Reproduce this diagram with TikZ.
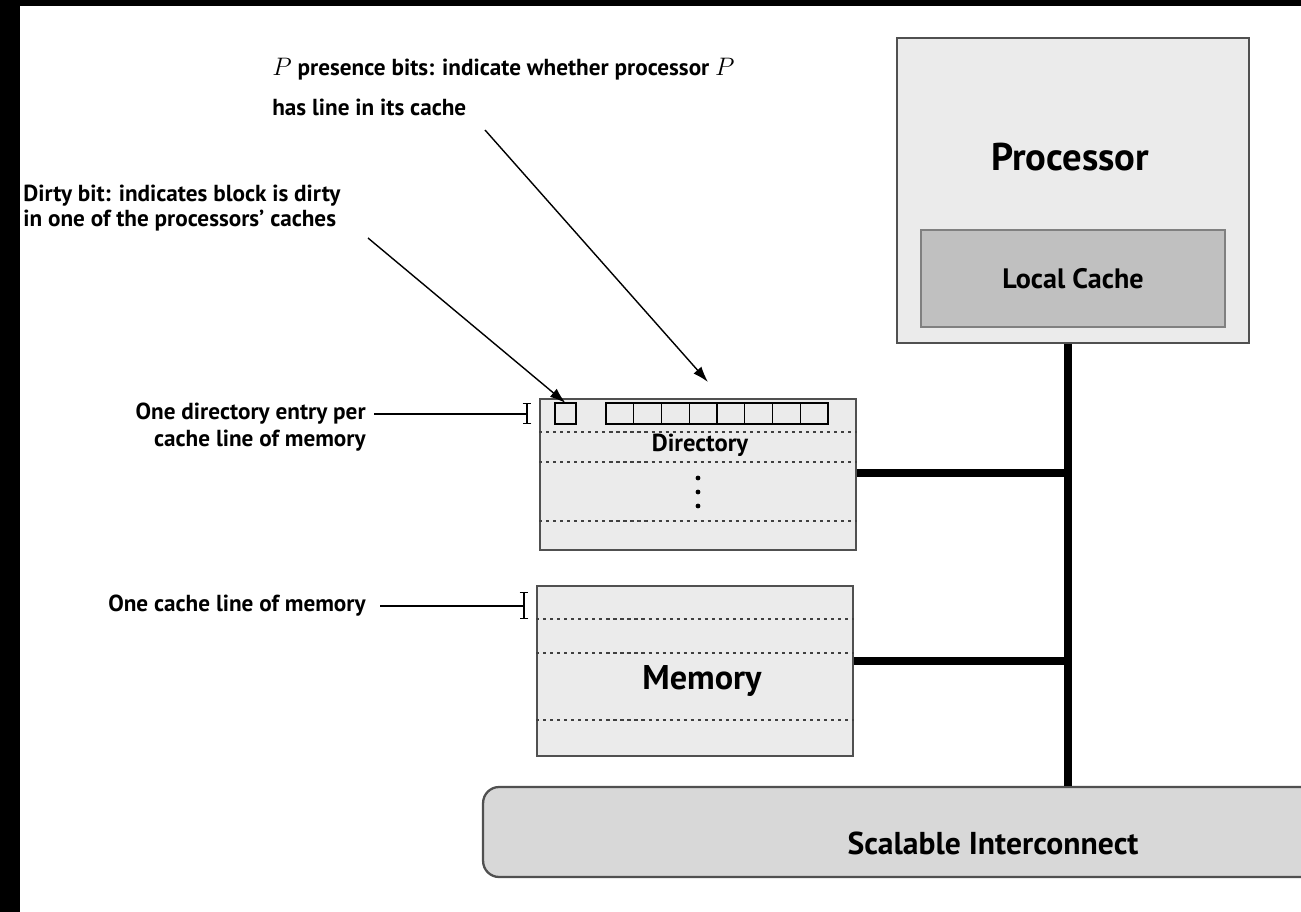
\documentclass[tikz,border=0pt]{standalone}
\usepackage{amsmath,amssymb}
\usepackage{fontspec}
\setmainfont{PT Sans}
\usetikzlibrary{arrows.meta}

\definecolor{boxgray}{HTML}{EBEBEB}
\definecolor{cachegray}{HTML}{C0C0C0}
\definecolor{netgray}{HTML}{D8D8D8}
\definecolor{edgegray}{HTML}{505050}

\newcommand{\procvar}{{\fontsize{15.5}{22.8}\selectfont$P$}}

\tikzset{
	unitbox/.style={draw=edgegray, line width=1.1pt, fill=boxgray, inner sep=0pt},
	bus/.style={line width=4.6pt},
	rowline/.style={line width=1.6pt, dash pattern=on 1.8pt off 2.2pt, black!75},
	note/.style={font=\fontsize{13.2}{14.2}\selectfont\bfseries, inner sep=0pt},
	pointer/.style={line width=0.8pt, -{Latex[length=9pt, width=6pt]}},
	entrymark/.style={line width=0.7pt, {Bar[width=5pt]}-{Bar[width=5pt]}}
}

\begin{document}
\begin{tikzpicture}[x=0.02cm, y=-0.02cm]
	\useasboundingbox (0,0) rectangle (1301,912);
	\fill[black] (0,0) rectangle (1301,6);
	\fill[black] (0,0) rectangle (20,912);

	% processor and its cache
	\node[unitbox, minimum width=7.04cm, minimum height=6.1cm] (proc) at (1073,190.5) {};
	\node[font=\fontsize{22}{24}\selectfont\bfseries] (proctext) at (1070,157) {Processor};
	\node[unitbox, draw=gray, line width=0.8pt, fill=cachegray, minimum width=6.08cm, minimum height=1.94cm,
		font=\fontsize{16}{18}\selectfont\bfseries] (cache) at (1073,278.5) {Local Cache};

	% interconnect
	\node[draw=edgegray, line width=1.3pt, fill=netgray, rounded corners=0.32cm,
		minimum width=16.94cm, minimum height=1.8cm] (net) at (906.5,832) {};
	\node[font=\fontsize{18}{20}\selectfont\bfseries] (nettext) at (993,843) {Scalable Interconnect};

	% directory
	\node[unitbox, minimum width=6.32cm, minimum height=3.02cm] (dir) at (698,474.5) {};
	\foreach \y in {432,462,521}
		\draw[rowline] (dir.west |- 0,\y) -- (dir.east |- 0,\y);
	\node[font=\fontsize{14}{16}\selectfont\bfseries] (dirtext) at (700,445) {Directory};
	\foreach \y in {478,492,506}
		\fill (698,\y) circle (2.4);
	\draw[line width=0.8pt] (555,403) rectangle (576,424);
	\coordinate (dirtybit) at (565.5,403);
	\foreach \i in {0,...,7}
		\draw[line width=0.8pt] (606+\i*27.75,403) rectangle ++(27.75,21);
	\coordinate (presbits) at (708,382);

	% memory
	\node[unitbox, minimum width=6.32cm, minimum height=3.4cm] (mem) at (695,671) {};
	\foreach \y in {619,653,720}
		\draw[rowline] (mem.west |- 0,\y) -- (mem.east |- 0,\y);
	\node[font=\fontsize{19.5}{22}\selectfont\bfseries] (memtext) at (702,681) {Memory};

	% links to the bus
	\coordinate (bustop) at (proc.south -| 1068,0);
	\draw[bus] (bustop) -- (bustop |- net.north);
	\draw[bus] (dir.east |- 0,473) -- (bustop |- 0,473);
	\draw[bus] (mem.east |- 0,661) -- (bustop |- 0,661);

	% notes
	\node[note, font=\fontsize{13.2}{22.8}\selectfont\bfseries, anchor=north west, align=left] (presnote) at (272,58)
		{\procvar{} presence bits: indicate whether processor \procvar\\has line in its cache};
	\draw[pointer] (485,130) -- (presbits);

	\node[note, anchor=north west, align=left] (dirtynote) at (23,185)
		{Dirty bit: indicates block is dirty\\in one of the processors' caches};
	\draw[pointer] (368,238) -- (dirtybit);

	\node[note, font=\fontsize{13.2}{15.4}\selectfont\bfseries, anchor=east, align=right] (entrynote) at (366,427)
		{One directory entry per\\cache line of memory};
	\draw[entrymark] (527,403) -- (527,424);
	\draw[line width=0.7pt] (374,414) -- (527,414);

	\node[note, anchor=east] (linenote) at (366,606) {One cache line of memory};
	\draw[entrymark] (524,592) -- (524,619);
	\draw[line width=0.7pt] (380,606) -- (524,606);
\end{tikzpicture}
\end{document}
